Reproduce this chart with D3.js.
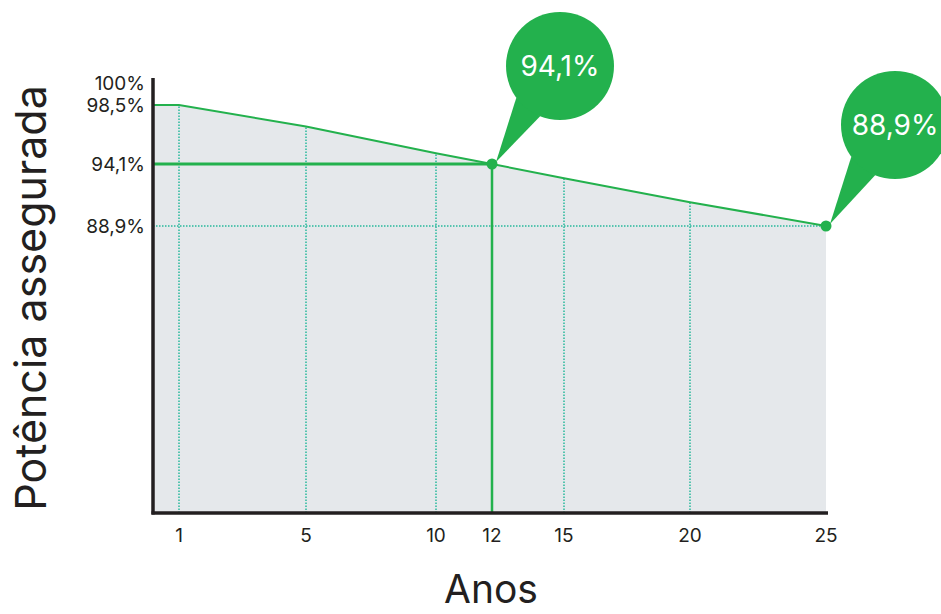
<!DOCTYPE html>
<html>
<head>
<meta charset="utf-8">
<script src="https://cdn.jsdelivr.net/npm/d3@7"></script>
<style>
  body { margin: 0; background: #fff; }
  svg { display: block; font-family: Inter, "Noto Sans", sans-serif; }
</style>
</head>
<body>
<div id="chart"></div>
<script>
// data
const years = [0, 1, 5, 10, 12, 15, 20, 25];
const power = [98.5, 98.5, 96.9, 94.9, 94.1, 92.9, 90.9, 88.9];
const xTicks = [1, 5, 10, 12, 15, 20, 25];
const gridYears = [1, 5, 10, 15, 20];
const yTicks = [100, 98.5, 94.1, 88.9];
const yTickLabels = ["100%", "98,5%", "94,1%", "88,9%"];
const callouts = [
    { year: 12, value: 94.1, label: "94,1%" },
    { year: 25, value: 88.9, label: "88,9%" }
];

const W = 941, H = 614;
const green = "#23b14d";
const grid = "#27b89c";
const axisColor = "#231f20";

const svg = d3.select("#chart").append("svg")
    .attr("width", W).attr("height", H);

// stylised (non-uniform) scales, as in the original drawing
const x = d3.scaleLinear()
    .domain([0, 1, 5, 10, 12, 15, 20, 25])
    .range([153, 179, 306, 436, 492, 564, 690, 826]);
const y = d3.scaleLinear()
    .domain([66, 88.9, 94.1, 98.5, 100])
    .range([513, 226, 164, 105, 83]);

const pts = years.map((d, i) => ({ year: d, value: power[i] }));

// filled area
svg.append("path")
    .datum(pts)
    .attr("fill", "#e5e8eb")
    .attr("d", d3.area().x(d => x(d.year)).y0(y(66)).y1(d => y(d.value)));

// dotted verticals up to the line
const valueAt = yr => power[years.indexOf(yr)];
svg.append("g").selectAll("line")
    .data(gridYears)
    .join("line")
    .attr("x1", d => x(d)).attr("x2", d => x(d))
    .attr("y1", y(66)).attr("y2", d => y(valueAt(d)))
    .attr("stroke", grid).attr("stroke-width", 1.5)
    .attr("stroke-dasharray", "1.5,1.5");

// dotted horizontal at 88,9
svg.append("line")
    .attr("x1", x(0)).attr("x2", x(25))
    .attr("y1", y(88.9)).attr("y2", y(88.9))
    .attr("stroke", grid).attr("stroke-width", 1.5)
    .attr("stroke-dasharray", "1.5,1.5");

// solid guides to year 12
svg.append("line")
    .attr("x1", x(0)).attr("x2", x(12))
    .attr("y1", y(94.1)).attr("y2", y(94.1))
    .attr("stroke", green).attr("stroke-width", 3);
svg.append("line")
    .attr("x1", x(12)).attr("x2", x(12))
    .attr("y1", y(94.1)).attr("y2", y(66))
    .attr("stroke", green).attr("stroke-width", 2.5);

// the line itself
svg.append("path")
    .datum(pts)
    .attr("fill", "none")
    .attr("stroke", green)
    .attr("stroke-width", 2)
    .attr("d", d3.line().x(d => x(d.year)).y(d => y(d.value)));

// axes
svg.append("line")
    .attr("x1", x(0)).attr("x2", x(0))
    .attr("y1", 78).attr("y2", y(66) + 1.5)
    .attr("stroke", axisColor).attr("stroke-width", 3.5);
svg.append("line")
    .attr("x1", x(0) - 1.5).attr("x2", x(25) + 2)
    .attr("y1", y(66)).attr("y2", y(66))
    .attr("stroke", axisColor).attr("stroke-width", 3.5);

// tick labels
svg.append("g").selectAll("text")
    .data(xTicks)
    .join("text")
    .attr("x", d => x(d)).attr("y", 542)
    .attr("text-anchor", "middle")
    .attr("font-size", 19)
    .attr("fill", axisColor)
    .text(d => d);

svg.append("g").selectAll("text")
    .data(yTicks)
    .join("text")
    .attr("x", 145).attr("y", d => y(d))
    .attr("dy", "0.36em")
    .attr("text-anchor", "end")
    .attr("font-size", 19)
    .attr("fill", axisColor)
    .text((d, i) => yTickLabels[i]);

// axis titles
svg.append("text")
    .attr("transform", "translate(46,298) rotate(-90)")
    .attr("text-anchor", "middle")
    .attr("font-size", 43)
    .attr("fill", axisColor)
    .text("Potência assegurada");
svg.append("text")
    .attr("x", 491).attr("y", 603)
    .attr("text-anchor", "middle")
    .attr("font-size", 39)
    .attr("fill", axisColor)
    .text("Anos");

// callout bubbles
const bubbleOffsets = [{ dx: 68, dy: -98 }, { dx: 69, dy: -101 }];
callouts.forEach((c, i) => {
    const px = x(c.year), py = y(c.value);
    const cx = px + bubbleOffsets[i].dx, cy = py + bubbleOffsets[i].dy;
    const r = 54;
    const g = svg.append("g");
    // tail
    const a1 = Math.PI * 0.62, a2 = Math.PI * 0.80;
    g.append("path")
        .attr("fill", green)
        .attr("d", `M${px + 4},${py - 2} L${cx + r * Math.cos(a1)},${cy + r * Math.sin(a1)} L${cx + r * Math.cos(a2)},${cy + r * Math.sin(a2)} Z`);
    g.append("circle")
        .attr("cx", cx).attr("cy", cy).attr("r", r)
        .attr("fill", green);
    g.append("text")
        .attr("x", cx).attr("y", cy)
        .attr("dy", "0.36em")
        .attr("text-anchor", "middle")
        .attr("font-size", 28)
        .attr("fill", "#fff")
        .text(c.label);
    g.append("circle")
        .attr("cx", px).attr("cy", py).attr("r", 5.5)
        .attr("fill", green);
});
</script>
</body>
</html>
